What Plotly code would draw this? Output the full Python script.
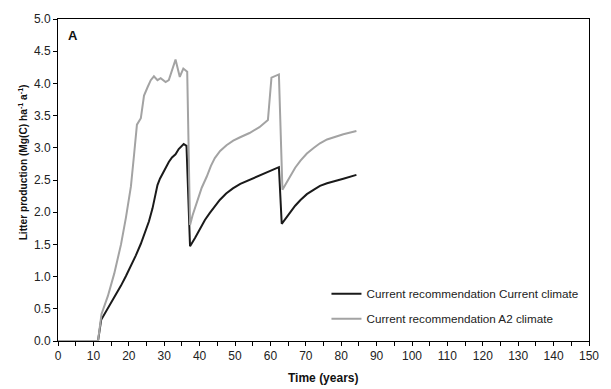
import plotly.graph_objects as go

# Data
years_current = [0, 11.3, 12.2, 13.5, 15.0, 16.5, 17.8, 19.2, 20.6, 22.0, 23.4, 24.6, 25.7, 26.7, 27.5,
                 28.1, 28.8, 29.5, 30.4, 31.3, 32.2, 33.2, 34.1, 35.5, 36.3,
                 37.3, 38.7, 40.1, 41.5, 42.9, 44.3, 45.7, 47.5, 49.4, 51.5, 54.1, 56.5, 58.7, 62.4,
                 63.2, 64.4, 65.7, 67.0, 68.5, 70.3, 72.3, 74.0, 76.0, 78.3, 80.6, 84.3]
litter_current = [0, 0, 0.33, 0.45, 0.59, 0.73, 0.86, 1.01, 1.16, 1.33, 1.51, 1.68, 1.86, 2.06, 2.25,
                  2.42, 2.52, 2.60, 2.70, 2.78, 2.85, 2.90, 2.98, 3.06, 3.03,
                  1.47, 1.60, 1.74, 1.88, 1.99, 2.10, 2.19, 2.29, 2.37, 2.44, 2.50, 2.56, 2.61, 2.70,
                  1.82, 1.91, 2.01, 2.10, 2.19, 2.28, 2.35, 2.41, 2.45, 2.49, 2.52, 2.58]

years_a2 = [0, 11.3, 12.3, 14.1, 15.9, 17.8, 19.2, 20.0, 20.6, 21.5, 22.3, 23.4, 23.9, 24.3, 25.3, 26.2,
            27.1, 28.1, 29.0, 30.4, 31.3, 33.2, 34.4, 35.4, 36.5,
            37.3, 38.0, 39.2, 40.6, 42.0, 43.2, 44.3, 45.8, 47.6, 49.5, 51.3, 54.1, 56.9, 59.3,
            60.3, 62.4,
            63.4, 64.5, 65.7, 67.0, 68.5, 70.3, 72.3, 74.0, 76.0, 78.3, 80.6, 84.3]
litter_a2 = [0, 0, 0.42, 0.70, 1.05, 1.50, 1.92, 2.20, 2.40, 2.90, 3.36, 3.46, 3.66, 3.81, 3.94, 4.05,
             4.11, 4.05, 4.08, 4.02, 4.05, 4.37, 4.10, 4.23, 4.18,
             1.80, 1.95, 2.16, 2.38, 2.55, 2.72, 2.84, 2.95, 3.04, 3.11, 3.16, 3.23, 3.32, 3.43,
             4.09, 4.14,
             2.35, 2.46, 2.57, 2.69, 2.80, 2.91, 3.00, 3.07, 3.13, 3.17, 3.21, 3.26]

series_names = ["Current recommendation Current climate", "Current recommendation A2 climate"]
x_title = "Time (years)"
y_title = "Litter production (Mg(C) ha<sup>-1</sup> a<sup>-1</sup>)"
panel_label = "A"

FONT = "Arial, Liberation Sans, Helvetica, sans-serif"
W, H = 611, 389
ML, MR, MT, MB = 58, 15, 12, 48
PW = W - ML - MR
PH = H - MT - MB

fig = go.Figure()
fig.add_trace(go.Scatter(x=years_current, y=litter_current, mode="lines", name=series_names[0],
                         line=dict(color="#1a1a1a", width=2), legendgroup="a"))
fig.add_trace(go.Scatter(x=years_a2, y=litter_a2, mode="lines", name=series_names[1],
                         line=dict(color="#a3a3a3", width=2), legendgroup="b"))

axis_common = dict(showline=True, linecolor="black", linewidth=1, mirror=True, showgrid=False,
                   zeroline=False, ticks="outside", ticklen=4, tickcolor="black",
                   tickfont=dict(family=FONT, size=12, color="#222"))

fig.update_xaxes(range=[0, 150], dtick=10, tick0=0,
                 minor=dict(dtick=5, ticks="outside", ticklen=4, tickcolor="black"),
                 **axis_common)
fig.update_yaxes(range=[0, 5], dtick=0.5, tick0=0, tickformat=".1f", **axis_common)

fig.add_annotation(text="<b>" + y_title + "</b>", xref="paper", yref="paper", x=(22 - ML) / PW,
                   y=(341 - 158) / PH, textangle=-90, showarrow=False, xanchor="center",
                   yanchor="middle", font=dict(family=FONT, size=10.2, color="#111"))
fig.add_annotation(text="<b>" + x_title + "</b>", xref="paper", yref="paper", x=(326 - ML) / PW,
                   y=(341 - 379) / PH, showarrow=False, xanchor="center", yanchor="middle",
                   font=dict(family=FONT, size=12, color="#111"))
fig.add_annotation(text="<b>" + panel_label + "</b>", xref="paper", yref="paper", x=(73 - ML) / PW,
                   y=(341 - 29) / PH, showarrow=False, xanchor="center", yanchor="middle",
                   font=dict(family=FONT, size=13, color="#111"))

fig.update_layout(
    width=W, height=H, margin=dict(l=ML, r=MR, t=MT, b=MB),
    paper_bgcolor="white", plot_bgcolor="white",
    font=dict(family=FONT, size=11.7, color="#222"),
    showlegend=True,
    legend=dict(x=(330 - ML) / PW, y=(341 - 278) / PH, xanchor="left", yanchor="top",
                bgcolor="rgba(0,0,0,0)", itemwidth=30, tracegroupgap=6,
                font=dict(family=FONT, size=11.7, color="#222")),
)

fig.write_html("out.html")
